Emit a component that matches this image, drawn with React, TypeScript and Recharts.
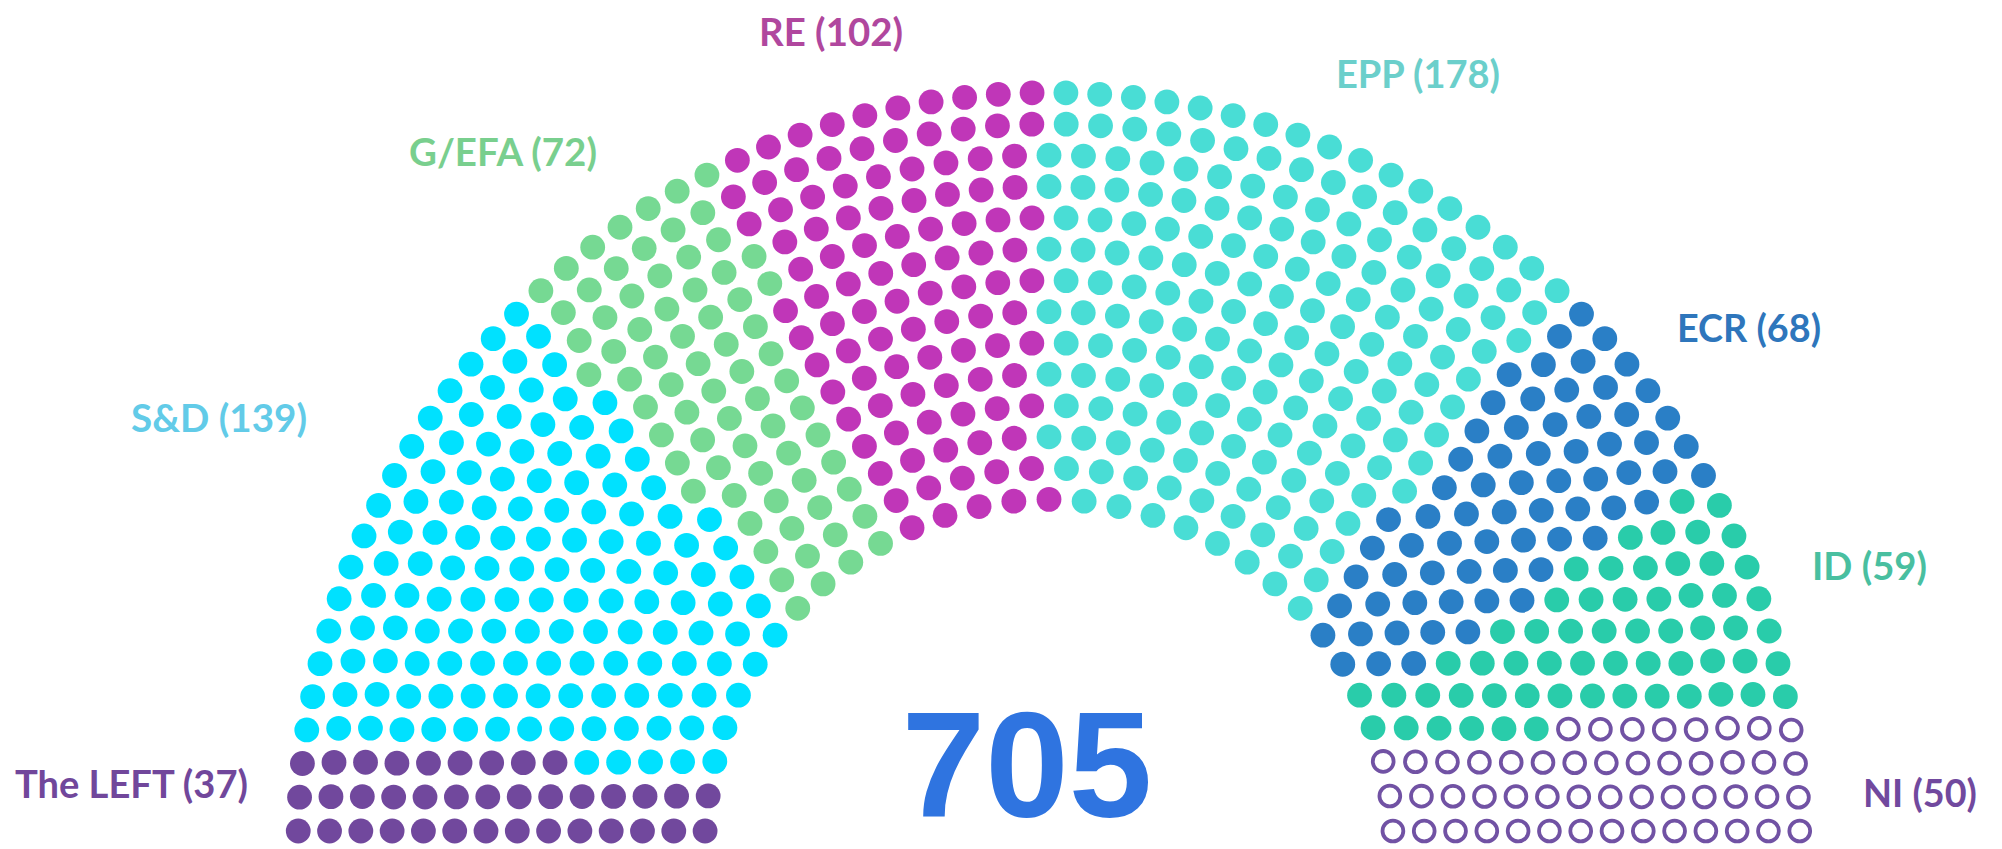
import React from "react";
import { ScatterChart, Scatter, XAxis, YAxis } from "recharts";

// ---- data ----
const parties = ["The LEFT", "S&D", "G/EFA", "RE", "EPP", "ECR", "ID", "NI"];
const seats = [37, 139, 72, 102, 178, 68, 59, 50];
const totalLabel = "705";

// ---- styles ----
const seatColors = ["#71489D", "#00E1FF", "#76D993", "#C036B8", "#49DDD5", "#2A7FC6", "#29CCAA", "#7152A4"];
const hollowSeat = [false, false, false, false, false, false, false, true];
const labelColors = ["#71479B", "#62CBE8", "#79CF8E", "#B0479E", "#6BCFCB", "#2E76BC", "#49BFA0", "#71499E"];
const labelPos = [
  { x: 15, y: 798, w: 233 },
  { x: 131, y: 432, w: 176 },
  { x: 409, y: 166, w: 188 },
  { x: 759, y: 46, w: 144 },
  { x: 1336, y: 88, w: 164 },
  { x: 1677, y: 342, w: 144 },
  { x: 1812, y: 580, w: 115 },
  { x: 1863, y: 807, w: 114 },
];

const W = 2002;
const H = 849;
const SCALE = 438; // px per layout unit
const CX = 1049;
const BASE = 843.5;
// seat ordering: lowest seats grouped in horizontal bands at both ends,
// upper seats ordered by angle around a slightly lowered pivot
const BAND_TOP = 0.38;
const BAND_LIFT = 0.16;
const PIVOT_DROP = 0.15;

// Classic hemicycle layout (row totals per row count)
const ROW_TOTALS = [3, 15, 33, 61, 95, 138, 189, 247, 313, 388, 469, 559, 657, 762, 876, 997, 1126, 1263, 1408, 1560];

type Pos = { a: number; x: number; y: number; k: number };

function hemicycle(total: number) {
  const rows = ROW_TOTALS.findIndex((t) => t >= total) + 1;
  const rad = 0.4 / rows;
  const pos: Pos[] = [];
  const pushRow = (J: number, R: number) => {
    if (J === 1) {
      pos.push({ a: Math.PI / 2, x: 0, y: R, k: 0 });
      return;
    }
    const off = Math.sin(rad / R);
    for (let j = 0; j < J; j++) {
      const a = (j * (Math.PI - 2 * off)) / (J - 1) + off;
      pos.push({ a, x: R * Math.cos(a), y: R * Math.sin(a), k: 0 });
    }
  };
  for (let i = 1; i < rows; i++) {
    const J = Math.floor(
      ((total / ROW_TOTALS[rows - 1]) * Math.PI) / (2 * Math.asin(2 / (3 * rows + 4 * i - 2)))
    );
    pushRow(J, (3 * rows + 4 * i - 2) / (4 * rows));
  }
  pushRow(total - pos.length, (7 * rows - 2) / (4 * rows));
  pos.forEach((p) => {
    if (p.y < BAND_TOP) {
      let k = Math.atan2(p.y - BAND_LIFT, p.x);
      if (k < -Math.PI / 2) k += 2 * Math.PI;
      p.k = k;
    } else {
      p.k = Math.atan2(p.y + PIVOT_DROP, p.x);
    }
  });
  pos.sort((a, b) => b.k - a.k);
  return pos;
}

const total = seats.reduce((s, v) => s + v, 0);
const layout = hemicycle(total);
const seatData: { x: number; y: number }[][] = [];
{
  let c = 0;
  seats.forEach((n) => {
    seatData.push(layout.slice(c, c + n).map((p) => ({ x: p.x, y: p.y })));
    c += n;
  });
}

const xDomain: [number, number] = [-CX / SCALE, (W - CX) / SCALE];
const yDomain: [number, number] = [(BASE - H) / SCALE, BASE / SCALE];

const labelFont = "Lato, 'Open Sans', sans-serif";

export default function App() {
  return (
    <div style={{ position: "absolute", left: 0, top: 0, width: W, height: H, background: "#fff" }}>
      <ScatterChart width={W} height={H} margin={{ top: 0, right: 0, bottom: 0, left: 0 }}>
        <XAxis type="number" dataKey="x" domain={xDomain} hide allowDataOverflow />
        <YAxis type="number" dataKey="y" domain={yDomain} hide allowDataOverflow />
        {parties.map((p, i) => (
          <Scatter
            key={p}
            name={p}
            data={seatData[i]}
            isAnimationActive={false}
            shape={(props: any) =>
              hollowSeat[i] ? (
                <circle cx={props.cx} cy={props.cy} r={10.4} fill="none" stroke={seatColors[i]} strokeWidth={3.8} />
              ) : (
                <circle cx={props.cx} cy={props.cy} r={12.4} fill={seatColors[i]} />
              )
            }
          />
        ))}
      </ScatterChart>
      <svg
        width={W}
        height={H}
        style={{ position: "absolute", left: 0, top: 0, pointerEvents: "none" }}
      >
        {parties.map((p, i) => (
          <text
            key={p}
            x={labelPos[i].x}
            y={labelPos[i].y}
            fill={labelColors[i]}
            fontFamily={labelFont}
            fontWeight={700}
            fontSize={38}
            textLength={labelPos[i].w}
            lengthAdjust="spacingAndGlyphs"
          >
            {`${p} (${seats[i]})`}
          </text>
        ))}
        <text
          x={1027}
          y={817}
          textAnchor="middle"
          fill="#2F74E0"
          fontFamily="'Liberation Sans', Arial, sans-serif"
          fontWeight={700}
          fontSize={150}
        >
          {totalLabel}
        </text>
      </svg>
    </div>
  );
}
